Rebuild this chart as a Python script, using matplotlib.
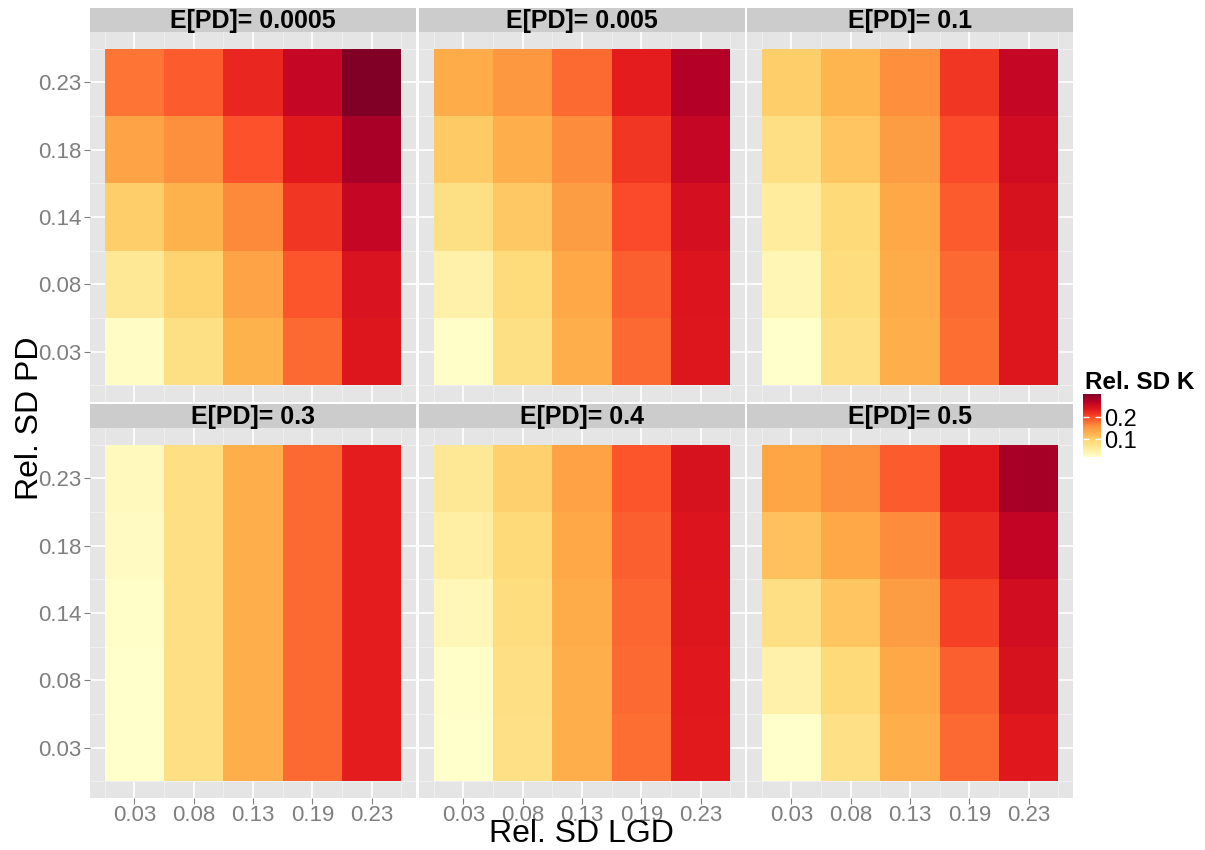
import numpy as np
import matplotlib.pyplot as plt
from matplotlib.colors import Normalize

plt.rcParams['font.family'] = ['Liberation Sans', 'DejaVu Sans']

lgd_labels = ['0.03', '0.08', '0.13', '0.19', '0.23']
pd_labels = ['0.03', '0.08', '0.14', '0.18', '0.23']
epd_labels = ['0.0005', '0.005', '0.1', '0.3', '0.4', '0.5']

# rows = Rel. SD PD (0.03 -> 0.23), cols = Rel. SD LGD (0.03 -> 0.23)
k_0005 = [[0.025, 0.079, 0.127, 0.182, 0.238],
          [0.064, 0.095, 0.140, 0.194, 0.243],
          [0.101, 0.127, 0.164, 0.214, 0.261],
          [0.140, 0.159, 0.196, 0.235, 0.281],
          [0.176, 0.191, 0.225, 0.261, 0.305]]
k_005 = [[0.022, 0.079, 0.130, 0.181, 0.238],
         [0.048, 0.086, 0.136, 0.188, 0.241],
         [0.079, 0.106, 0.147, 0.200, 0.247],
         [0.104, 0.130, 0.162, 0.214, 0.261],
         [0.133, 0.153, 0.182, 0.232, 0.274]]
k_01 = [[0.019, 0.077, 0.130, 0.179, 0.238],
        [0.039, 0.083, 0.133, 0.182, 0.239],
        [0.057, 0.089, 0.136, 0.191, 0.244],
        [0.080, 0.109, 0.147, 0.200, 0.252],
        [0.101, 0.123, 0.160, 0.214, 0.261]]
k_03 = [[0.019, 0.080, 0.130, 0.181, 0.232],
        [0.019, 0.080, 0.130, 0.181, 0.232],
        [0.022, 0.080, 0.130, 0.181, 0.232],
        [0.028, 0.080, 0.130, 0.181, 0.232],
        [0.031, 0.080, 0.130, 0.181, 0.232]]
k_04 = [[0.019, 0.077, 0.130, 0.179, 0.235],
        [0.023, 0.080, 0.130, 0.181, 0.236],
        [0.036, 0.083, 0.133, 0.184, 0.238],
        [0.051, 0.089, 0.136, 0.188, 0.241],
        [0.064, 0.098, 0.141, 0.194, 0.244]]
k_05 = [[0.020, 0.077, 0.130, 0.182, 0.236],
        [0.048, 0.089, 0.136, 0.188, 0.244],
        [0.080, 0.109, 0.147, 0.207, 0.250],
        [0.112, 0.136, 0.163, 0.223, 0.263],
        [0.139, 0.159, 0.191, 0.236, 0.282]]
panels = [k_0005, k_005, k_01, k_03, k_04, k_05]

W, H = 1205, 850
fig = plt.figure(figsize=(W / 100, H / 100), dpi=100)

allv = np.array(panels)
norm = Normalize(vmin=allv.min(), vmax=allv.max())
cmap = plt.get_cmap('YlOrRd')

col_left = [90, 419, 747]
pw = 326
row_top = [32, 428]
ph = 370
strip_h = 24

edges = np.arange(0.5, 6.0, 1.0)
mesh = None
for i, (lab, data) in enumerate(zip(epd_labels, panels)):
    r, c = divmod(i, 3)
    x0 = col_left[c]
    y0 = row_top[r]
    ax = fig.add_axes([x0 / W, 1 - (y0 + ph) / H, pw / W, ph / H])
    ax.set_facecolor('#E5E5E5')
    mesh = ax.pcolormesh(edges, edges, np.array(data), cmap=cmap, norm=norm,
                         zorder=2, linewidth=0, antialiased=False)
    ax.set_xlim(0.25, 5.75)
    ax.set_ylim(0.25, 5.75)
    ax.set_xticks(range(1, 6))
    ax.set_yticks(range(1, 6))
    ax.set_xticks(edges, minor=True)
    ax.set_yticks(edges, minor=True)
    ax.grid(which='major', color='white', lw=1.2, zorder=1)
    ax.grid(which='minor', color='#F2F2F2', lw=0.6, zorder=1)
    for s in ax.spines.values():
        s.set_visible(False)
    ax.tick_params(which='minor', length=0)
    ax.tick_params(which='major', length=4, color='#7F7F7F', labelcolor='#7F7F7F',
                   labelsize=16, pad=2)
    if c == 0:
        ax.set_yticklabels(pd_labels)
    else:
        ax.tick_params(axis='y', length=0, labelleft=False)
    if r == 1:
        ax.set_xticklabels(lgd_labels)
        ax.tick_params(axis='x', pad=1)
    else:
        ax.tick_params(axis='x', length=0, labelbottom=False)

    sax = fig.add_axes([x0 / W, 1 - y0 / H, pw / W, strip_h / H])
    sax.set_facecolor('#CCCCCC')
    sax.set_xticks([])
    sax.set_yticks([])
    for s in sax.spines.values():
        s.set_visible(False)
    sax.text(0.5, 0.45, 'E[PD]= ' + lab, ha='center', va='center',
             fontsize=18, fontweight='bold', transform=sax.transAxes)

fig.text(38 / W, 1 - 418 / H, 'Rel. SD PD', rotation=90, ha='center', va='baseline',
         fontsize=23, rotation_mode='anchor')
fig.text(581 / W, 1 - 849 / H, 'Rel. SD LGD', ha='center', va='bottom', fontsize=23)

# colour bar legend
cax = fig.add_axes([1083 / W, 1 - 457 / H, 18 / W, 63 / H])
cb = fig.colorbar(mesh, cax=cax, ticks=[0.1, 0.2])
cb.outline.set_visible(False)
cb.ax.set_yticklabels(['0.1', '0.2'])
cax.tick_params(left=True, right=True, direction='in', color='white', length=4,
                width=1, labelsize=17, pad=2)
fig.text(1085 / W, 1 - 382 / H, 'Rel. SD K', fontsize=17.5, fontweight='bold',
         va='center', ha='left')

fig.savefig('out.png', dpi=100)
